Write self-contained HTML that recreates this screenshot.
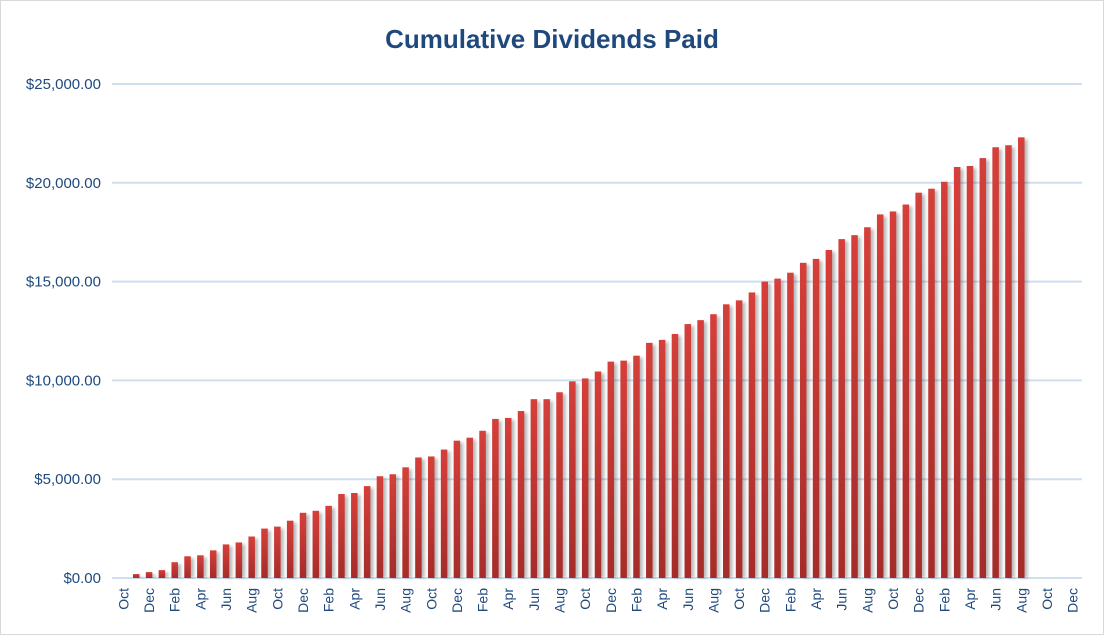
<!DOCTYPE html>
<html><head><meta charset="utf-8"><style>
html,body{margin:0;padding:0;background:#fff;}
svg{display:block;font-family:"Liberation Sans",sans-serif;}
</style></head><body>
<svg id="chart" width="1104" height="635" viewBox="0 0 1104 635">
<defs>
<linearGradient id="barGrad" x1="0" y1="0" x2="0" y2="1">
<stop offset="0" stop-color="#d63f3a"/><stop offset="1" stop-color="#a52c2a"/>
</linearGradient>
<filter id="sh" x="-50%" y="-5%" width="250%" height="110%"><feGaussianBlur stdDeviation="1.5"/></filter>
</defs>
<rect x="0.5" y="0.5" width="1103" height="634" fill="#fff" stroke="#d9d9d9"/>
<text x="552" y="48" text-anchor="middle" font-size="26" font-weight="bold" fill="#1f497d">Cumulative Dividends Paid</text>
<g id="grid"></g>
<g id="yaxis"></g>
<g id="bars"></g>
<g id="xaxis"></g>
</svg>
<script>
const months = ["Oct","Nov","Dec","Jan","Feb","Mar","Apr","May","Jun","Jul","Aug","Sep"];
const categoryCount = 75;
const values = [0,200,300,400,800,1100,1150,1400,1700,1800,2100,2500,2600,2900,3300,3400,3650,4250,4300,4650,5150,5250,5600,6100,6150,
6500,6950,7100,7450,8050,8100,8450,9050,9050,9400,9950,10100,10450,10950,11000,11250,11900,12050,12350,12850,13050,13350,13850,14050,14450,15000,15150,15450,15950,16150,16600,17150,17350,17750,18400,18550,18900,19500,19700,20050,20800,20850,21250,21800,21900,22300];
const yTicks = [0,5000,10000,15000,20000,25000];
const yTickLabels = ["$0.00","$5,000.00","$10,000.00","$15,000.00","$20,000.00","$25,000.00"];

const NS="http://www.w3.org/2000/svg";
const plotL=117, plotR=1079, y0=578, yTop=84, yMax=25000;
const band=(plotR-plotL)/categoryCount;
function xc(i){return plotL+band*(i+0.5);}
function ys(v){return y0-(v/yMax)*(y0-yTop);}
function mk(tag,attrs,parent){const e=document.createElementNS(NS,tag);for(const k in attrs)e.setAttribute(k,attrs[k]);parent.appendChild(e);return e;}
const grid=document.getElementById('grid'),ya=document.getElementById('yaxis'),bars=document.getElementById('bars'),xa=document.getElementById('xaxis');
yTicks.forEach((t,i)=>{
  const l=mk('line',{x1:112,x2:1082,y1:ys(t),y2:ys(t),stroke:'#d0dff0','stroke-width':2},grid);
  
  
  const tx=mk('text',{x:101,y:ys(t)+5,'text-anchor':'end','font-size':15,fill:'#1f497d'},ya);
  tx.textContent=yTickLabels[i];
  
  
});
const bw=6.5;
values.forEach((v,i)=>{
  if(v<=0)return;
  const x=xc(i)-bw/2,y=ys(v);
  mk('rect',{x:x+2,y:y+2,width:bw+1,height:y0-y-2,fill:'#000',opacity:0.28,filter:'url(#sh)'},bars);
  const r=mk('rect',{x:x,y:y,width:bw,height:y0-y,fill:'url(#barGrad)'},bars);
  
  
});
for(let i=0;i<categoryCount;i+=2){
  const x=xc(i)+5;
  const t=mk('text',{x:x,y:588,'text-anchor':'end','font-size':14,fill:'#1f497d',transform:`rotate(-90 ${x} 588)`},xa);
  t.textContent=months[i%12];
  
  
}
</script>
</body></html>
